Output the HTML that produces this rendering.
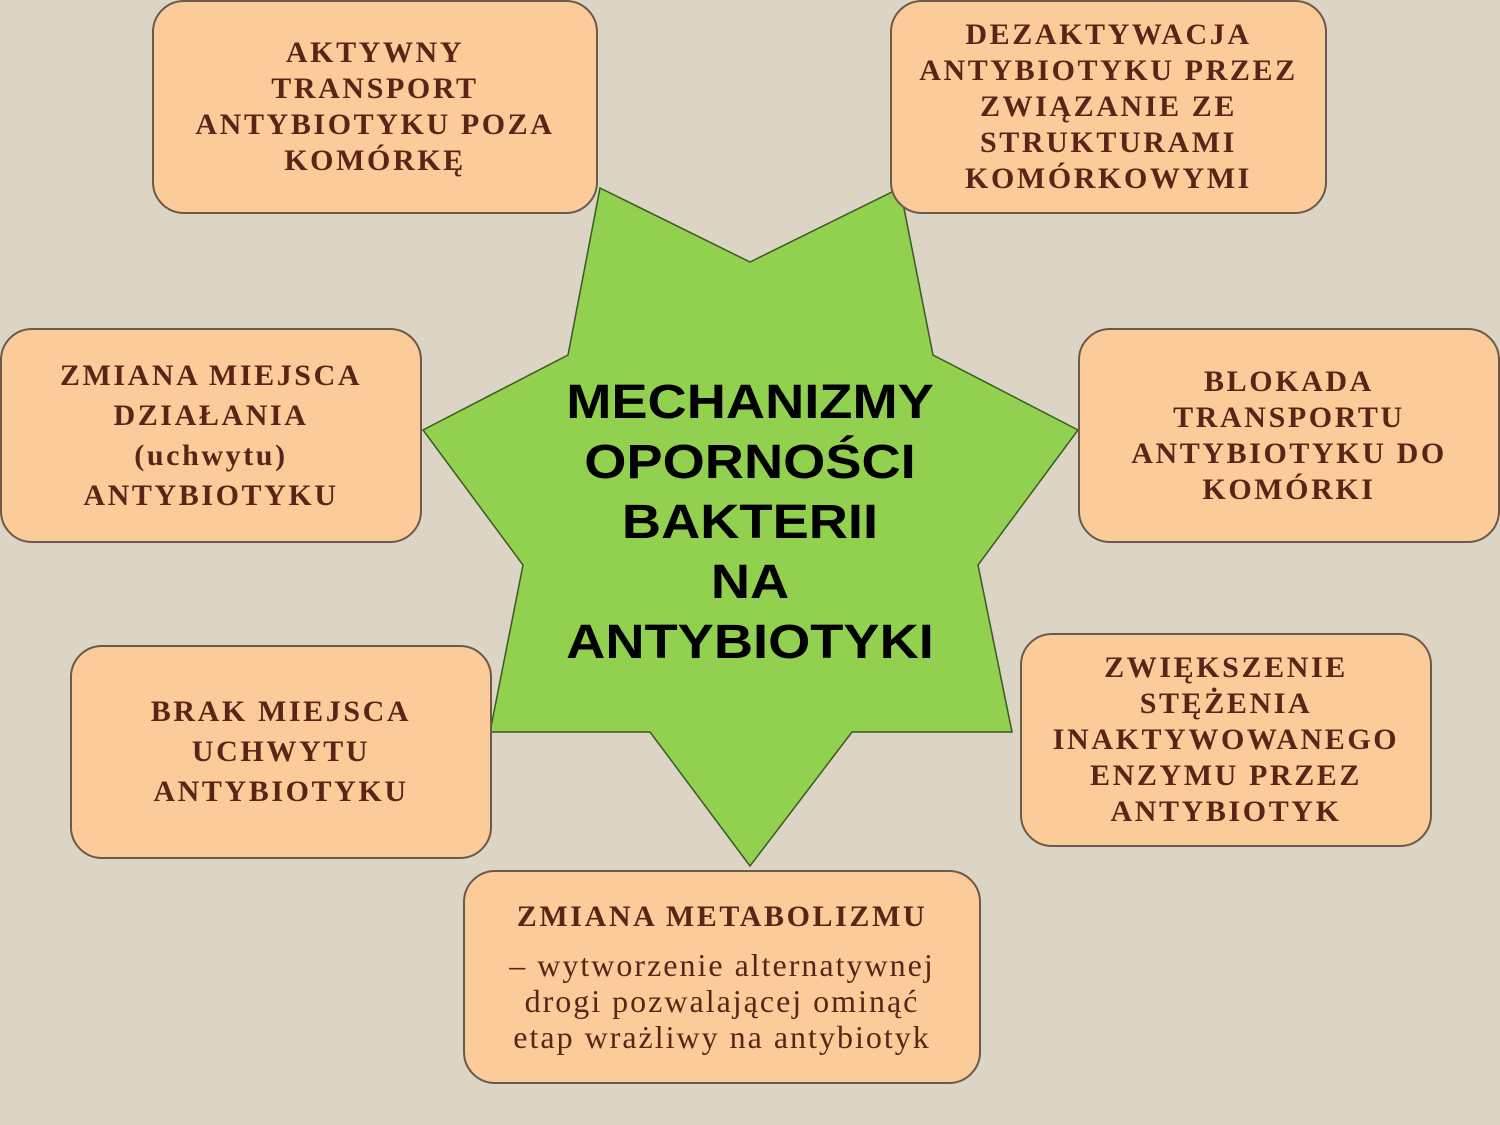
<!DOCTYPE html>
<html><head><meta charset="utf-8"><style>
body{margin:0;width:1500px;height:1125px;overflow:hidden;background:#dcd4c4;position:relative;font-family:"Liberation Serif",serif}
.b{position:absolute;box-sizing:border-box;background:#fccb9a;border:2px solid #6b5a4a;border-radius:32px;display:flex;flex-direction:column;justify-content:center;align-items:center;text-align:center;color:#5c2318;font-weight:bold;font-size:30px;letter-spacing:2.6px;line-height:36px;white-space:nowrap}
.c{position:absolute;left:450px;width:600px;top:373px;text-align:center;font-family:"Liberation Sans",sans-serif;font-weight:bold;font-size:48px;line-height:60px;color:#000;transform:scaleX(1.13)}
</style></head><body>
<svg width="1500" height="1125" style="position:absolute;left:0;top:0">
<polygon points="600,188 750,262 900,188 933,355 1078,430 978,565 1012,732 852,732 750,866 650,732 490,732 523,565 423,430 568,355" fill="#92d050" stroke="#3a5a20" stroke-width="1.5"/>
</svg>
<div class="b" style="left:152px;top:0;width:446px;height:214px">AKTYWNY<br>TRANSPORT<br>ANTYBIOTYKU POZA<br>KOMÓRKĘ</div>
<div class="b" style="left:890px;top:0;width:437px;height:214px">DEZAKTYWACJA<br>ANTYBIOTYKU PRZEZ<br>ZWIĄZANIE ZE<br>STRUKTURAMI<br>KOMÓRKOWYMI</div>
<div class="b" style="left:0;top:328px;width:422px;height:215px;line-height:40px">ZMIANA MIEJSCA<br>DZIAŁANIA<br>(uchwytu)<br>ANTYBIOTYKU</div>
<div class="b" style="left:1078px;top:328px;width:422px;height:215px">BLOKADA<br>TRANSPORTU<br>ANTYBIOTYKU DO<br>KOMÓRKI</div>
<div class="b" style="left:70px;top:645px;width:422px;height:214px;line-height:40px">BRAK MIEJSCA<br>UCHWYTU<br>ANTYBIOTYKU</div>
<div class="b" style="left:1020px;top:633px;width:412px;height:214px">ZWIĘKSZENIE<br>STĘŻENIA<br>INAKTYWOWANEGO<br>ENZYMU PRZEZ<br>ANTYBIOTYK</div>
<div class="b" style="left:463px;top:870px;width:518px;height:214px"><div style="margin-bottom:12px">ZMIANA METABOLIZMU</div><div style="font-weight:normal;letter-spacing:2px;font-size:32px;line-height:36px">– wytworzenie alternatywnej<br>drogi pozwalającej ominąć<br>etap wrażliwy na antybiotyk</div></div>
<div class="c">MECHANIZMY<br>OPORNOŚCI<br>BAKTERII<br>NA<br>ANTYBIOTYKI</div>
</body></html>
